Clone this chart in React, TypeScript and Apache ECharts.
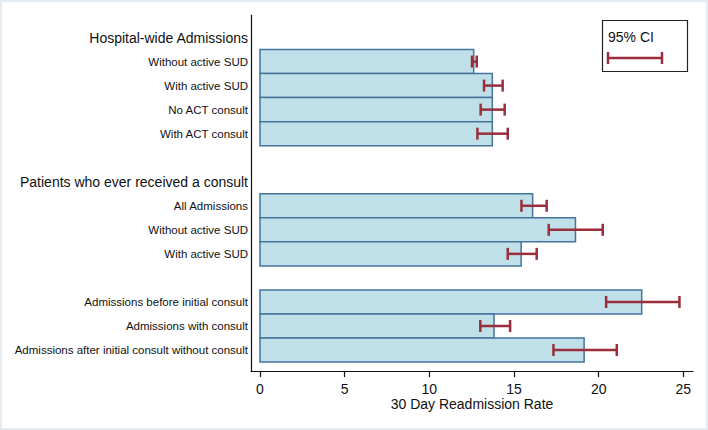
import React, { useEffect, useRef } from "react";
import * as echarts from "echarts";

const categories = [
  "Hospital-wide Admissions",
  "Without active SUD",
  "With active SUD",
  "No ACT consult",
  "With ACT consult",
  "",
  "Patients who ever received a consult",
  "All Admissions",
  "Without active SUD",
  "With active SUD",
  "",
  "Admissions before initial consult",
  "Admissions with consult",
  "Admissions after initial consult without consult",
];
const headings = ["Hospital-wide Admissions", "Patients who ever received a consult"];
const rates: (number | null)[] = [null, 12.62, 13.72, 13.72, 13.72, null, null, 16.1, 18.63, 15.42, null, 22.54, 13.82, 19.14];
const ciLow: (number | null)[] = [null, 12.52, 13.23, 13.03, 12.84, null, null, 15.44, 17.05, 14.63, null, 20.44, 13.01, 17.33];
const ciHigh: (number | null)[] = [null, 12.8, 14.33, 14.45, 14.63, null, null, 16.93, 20.24, 16.34, null, 24.77, 14.77, 21.07];
const xTicks = [0, 5, 10, 15, 20, 25];

const FONT = "'Liberation Sans', Arial, Helvetica, sans-serif";
const BAR_FILL = "#bfe0e8";
const BAR_STROKE = "#46739c";
const CI_COLOR = "#9b2e3d";

export default function App() {
  const ref = useRef<HTMLDivElement>(null);
  useEffect(() => {
    if (!ref.current) return;
    const chart = echarts.init(ref.current, null, { renderer: "svg" });
    const rows: number[][] = [];
    categories.forEach((_, i) => {
      if (rates[i] != null) rows.push([i, rates[i] as number, ciLow[i] as number, ciHigh[i] as number]);
    });
    const slots = categories.map((_, i) => i);
    const option: any = {
      animation: false,
      backgroundColor: "#ffffff",
      textStyle: { fontFamily: FONT },
      grid: { left: 251, right: 15, top: 15, bottom: 59, containLabel: false },
      xAxis: {
        type: "value",
        min: -0.53,
        max: 25.57,
        position: "bottom",
        name: "30 Day Readmission Rate",
        nameLocation: "middle",
        nameGap: 26,
        nameMoveOverlap: false,
        nameTextStyle: { fontSize: 14, color: "#111", fontFamily: FONT },
        axisLine: { show: true, onZero: false, lineStyle: { color: "#111", width: 1.2 } },
        axisTick: { show: true, length: 6, customValues: xTicks, lineStyle: { color: "#111", width: 1.2 } },
        axisLabel: { customValues: xTicks, fontSize: 14, color: "#111", margin: 11, fontFamily: FONT },
        splitLine: { show: false },
      },
      yAxis: {
        type: "value",
        inverse: true,
        min: -0.936,
        max: 13.872,
        axisLine: { show: true, onZero: false, lineStyle: { color: "#111", width: 1.2 } },
        axisTick: { show: false },
        splitLine: { show: false },
        axisLabel: {
          customValues: slots,
          margin: 3,
          fontSize: 11.5,
          color: "#111",
          fontFamily: FONT,
          formatter: (v: number) => {
            const s = categories[Math.round(v)] || "";
            if (!s) return "";
            return headings.includes(s) ? "{h|" + s + "}" : s;
          },
          rich: { h: { fontSize: 14, color: "#111", fontFamily: FONT } },
        },
      },
      graphic: [
        {
          type: "rect",
          shape: { x: 1, y: 1, width: 706, height: 428 },
          style: { fill: "none", stroke: "#e4ecf1", lineWidth: 2 },
          silent: true,
        },
        {
          type: "rect",
          shape: { x: 602.5, y: 20.5, width: 85, height: 51 },
          style: { fill: "#fff", stroke: "#222", lineWidth: 1.2 },
          z: 10,
        },
        {
          type: "text",
          x: 608,
          y: 37,
          style: { text: "95% CI", fontSize: 14, fill: "#111", fontFamily: FONT, verticalAlign: "middle" },
          z: 11,
        },
        { type: "line", shape: { x1: 608, y1: 58, x2: 662, y2: 58 }, style: { stroke: CI_COLOR, lineWidth: 2.5 }, z: 11 },
        { type: "line", shape: { x1: 608, y1: 52, x2: 608, y2: 64 }, style: { stroke: CI_COLOR, lineWidth: 2.5 }, z: 11 },
        { type: "line", shape: { x1: 662, y1: 52, x2: 662, y2: 64 }, style: { stroke: CI_COLOR, lineWidth: 2.5 }, z: 11 },
      ],
      series: [
        {
          type: "custom",
          name: "Rate",
          data: rows,
          encode: { x: 1, y: 0 },
          z: 2,
          renderItem: (params: any, api: any) => {
            const slot = api.value(0);
            const v = api.value(1);
            const p0 = api.coord([0, slot - 0.5]);
            const p1 = api.coord([v, slot + 0.5]);
            return {
              type: "rect",
              shape: { x: p0[0], y: p0[1], width: p1[0] - p0[0], height: p1[1] - p0[1] },
              style: { fill: BAR_FILL, stroke: BAR_STROKE, lineWidth: 1.5 },
            };
          },
        },
        {
          type: "custom",
          name: "95% CI",
          data: rows,
          encode: { x: [2, 3], y: 0 },
          z: 5,
          renderItem: (params: any, api: any) => {
            const slot = api.value(0);
            const a = api.coord([api.value(2), slot]);
            const b = api.coord([api.value(3), slot]);
            const st = { stroke: CI_COLOR, lineWidth: 2.5 };
            return {
              type: "group",
              children: [
                { type: "line", shape: { x1: a[0], y1: a[1], x2: b[0], y2: b[1] }, style: st },
                { type: "line", shape: { x1: a[0], y1: a[1] - 6, x2: a[0], y2: a[1] + 6 }, style: st },
                { type: "line", shape: { x1: b[0], y1: b[1] - 6, x2: b[0], y2: b[1] + 6 }, style: st },
              ],
            };
          },
        },
      ],
    };
    chart.setOption(option);
    return () => chart.dispose();
  }, []);
  return (
    <div
      ref={ref}
      style={{ position: "fixed", left: 0, top: 0, width: 708, height: 430, background: "#fff" }}
    />
  );
}
